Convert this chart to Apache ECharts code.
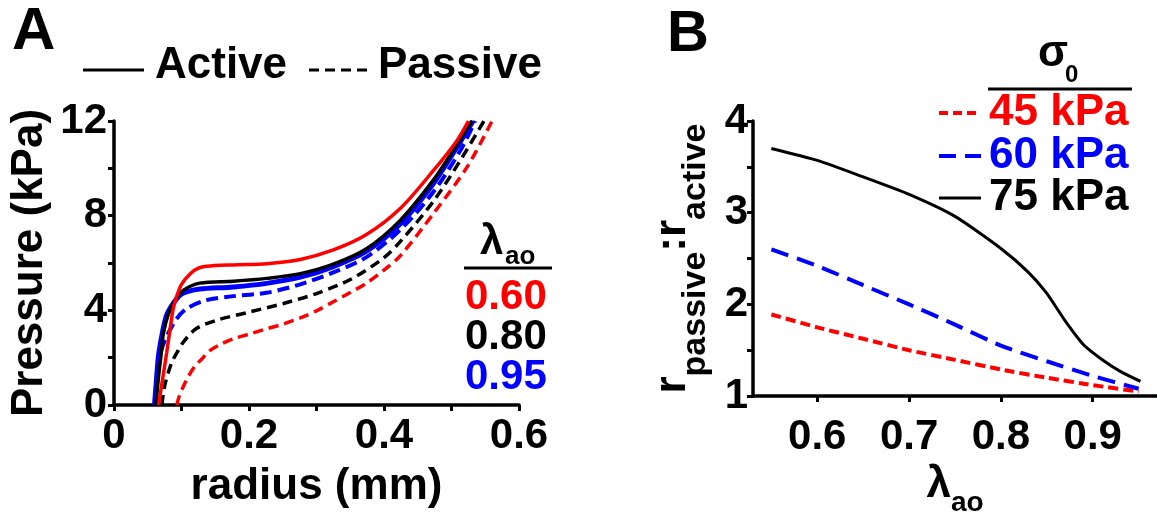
<!DOCTYPE html>
<html>
<head>
<meta charset="utf-8">
<script src="https://cdn.jsdelivr.net/npm/echarts@6/dist/echarts.min.js"></script>
<style>
html,body{margin:0;padding:0;background:#fff}
#main{width:1157px;height:522px}
</style>
</head>
<body>
<div id="main"></div>
<script>
// panel A: pressure vs radius, [radius mm, pressure kPa]
var redActive=[[0.066,0],[0.072,1.1],[0.078,2.2],[0.083,3.2],[0.088,4.1],[0.093,4.6],[0.100,5.1],[0.113,5.55],[0.125,5.78],[0.137,5.86],[0.177,5.92],[0.226,5.97],[0.276,6.15],[0.325,6.55],[0.374,7.2],[0.424,8.3],[0.473,9.9],[0.508,11.17],[0.525,12]];
var blackActive=[[0.062,0],[0.066,1.2],[0.070,2.2],[0.073,3.0],[0.080,3.8],[0.090,4.4],[0.103,4.85],[0.127,5.15],[0.177,5.23],[0.226,5.35],[0.276,5.55],[0.325,5.95],[0.374,6.6],[0.424,7.8],[0.473,9.5],[0.508,11.0],[0.530,12]];
var blueActive=[[0.060,0],[0.063,1.1],[0.066,2.1],[0.072,3.1],[0.078,3.8],[0.088,4.3],[0.098,4.65],[0.110,4.8],[0.127,4.9],[0.177,4.99],[0.226,5.14],[0.276,5.4],[0.325,5.85],[0.374,6.5],[0.424,7.65],[0.473,9.35],[0.508,10.89],[0.532,12]];
var bluePassive=[[0.061,0],[0.065,1.4],[0.070,2.3],[0.078,2.9],[0.093,3.65],[0.108,4.08],[0.137,4.43],[0.177,4.6],[0.226,4.74],[0.276,5.1],[0.325,5.6],[0.374,6.25],[0.424,7.4],[0.473,9.0],[0.513,10.75],[0.535,12]];
var blackPassive=[[0.071,0],[0.075,0.8],[0.085,1.76],[0.095,2.3],[0.103,2.67],[0.122,3.23],[0.152,3.58],[0.201,3.93],[0.251,4.29],[0.300,4.71],[0.350,5.3],[0.399,6.2],[0.424,6.9],[0.473,8.6],[0.513,10.33],[0.548,12]];
var redPassive=[[0.093,0],[0.097,0.4],[0.103,0.8],[0.110,1.2],[0.120,1.65],[0.132,2.0],[0.142,2.3],[0.157,2.55],[0.177,2.8],[0.201,3.0],[0.226,3.22],[0.251,3.42],[0.276,3.68],[0.300,3.98],[0.325,4.36],[0.350,4.75],[0.374,5.15],[0.400,5.7],[0.424,6.3],[0.473,8.08],[0.523,10.05],[0.560,12]];
var lambdaLabels=['0.60','0.80','0.95'];

// panel B: ratio vs lambda_ao
var lambdaB=[0.55,0.60,0.65,0.70,0.75,0.80,0.85,0.90,0.95];
var r45=[1.89,1.75,1.625,1.50,1.395,1.29,1.20,1.12,1.05];
var r60=[2.60,2.42,2.21,2.00,1.78,1.55,1.38,1.22,1.08];
var lambda75=[0.55,0.60,0.65,0.70,0.75,0.80,0.83,0.85,0.87,0.89,0.91,0.93,0.952];
var r75=[3.70,3.57,3.39,3.20,2.96,2.61,2.35,2.12,1.82,1.56,1.40,1.27,1.16];
var sigmaLabels=['45 kPa','60 kPa','75 kPa'];
var xTicksB=[0.6,0.7,0.8,0.9];

function pairs(xs,ys){
  var out=[];
  for(var i=0;i<xs.length;i++){out.push([xs[i],ys[i]]);}
  return out;
}

var FONT='Liberation Sans, Arial, sans-serif';
var RED='#ff0000',BLUE='#0000ff',BLACK='#000000';

function lab(size,margin){
  return {fontSize:size,fontWeight:'bold',fontFamily:FONT,color:BLACK,margin:margin};
}
var axLine={lineStyle:{color:BLACK,width:3.5}};
var tick={length:6,lineStyle:{color:BLACK,width:3}};
var minor={show:true,splitNumber:2,length:6,lineStyle:{color:BLACK,width:3}};

function line(name,data,grid,color,width,dash,smooth){
  return {
    name:name,type:'line',xAxisIndex:grid,yAxisIndex:grid,data:data,
    symbol:'none',smooth:smooth,
    lineStyle:{color:color,width:width,type:dash||'solid'}
  };
}

var myChart=echarts.init(document.getElementById('main'));
var option={
  animation:false,
  backgroundColor:'#fff',
  grid:[
    {left:114,top:121,width:405,height:284},
    {left:753,top:121,width:404,height:283}
  ],
  xAxis:[
    {type:'value',gridIndex:0,min:0,max:0.6,interval:0.2,
     axisLine:axLine,axisTick:tick,minorTick:minor,splitLine:{show:false},
     axisLabel:lab(42,10),
     name:'radius (mm)',nameLocation:'middle',nameGap:60,
     nameTextStyle:{fontSize:44,fontWeight:'bold',fontFamily:FONT,color:BLACK}},
    {type:'value',gridIndex:1,min:0.53,max:0.97,
     axisLine:axLine,
     axisTick:{length:6,lineStyle:{color:BLACK,width:3},customValues:xTicksB},
     splitLine:{show:false},
     axisLabel:Object.assign(lab(42,20),{customValues:xTicksB}),
     name:'{m|λ}{s|ao}',nameLocation:'middle',nameGap:62,
     nameTextStyle:{rich:{
       m:{fontSize:44,fontWeight:'bold',fontFamily:FONT,color:BLACK,verticalAlign:'top'},
       s:{fontSize:28,fontWeight:'bold',fontFamily:FONT,color:BLACK,padding:[26,0,0,0],verticalAlign:'top'}
     }}}
  ],
  yAxis:[
    {type:'value',gridIndex:0,min:0,max:12,interval:4,
     axisLine:axLine,axisTick:tick,minorTick:minor,splitLine:{show:false},
     axisLabel:lab(42,7),
     name:'Pressure (kPa)',nameLocation:'middle',nameRotate:90,nameGap:62,
     nameTextStyle:{fontSize:44,fontWeight:'bold',fontFamily:FONT,color:BLACK}},
    {type:'value',gridIndex:1,min:1,max:4,interval:1,
     axisLine:axLine,axisTick:tick,minorTick:minor,splitLine:{show:false},
     axisLabel:lab(42,5),
     name:'{m|r}{s|passive}{m|:r}{s|active}',nameLocation:'middle',nameRotate:90,nameGap:40,
     nameTextStyle:{rich:{
       m:{fontSize:44,fontWeight:'bold',fontFamily:FONT,color:BLACK,verticalAlign:'top'},
       s:{fontSize:34,fontWeight:'bold',fontFamily:FONT,color:BLACK,padding:[28,0,0,0],verticalAlign:'top'}
     }}}
  ],
  series:[
    line('0.95 passive',bluePassive,0,BLUE,4,[12,6],0.3),
    line('0.80 passive',blackPassive,0,BLACK,3.5,[10,6],0.3),
    line('0.60 passive',redPassive,0,RED,3.5,[10,6],0.3),
    line('0.95 active',blueActive,0,BLUE,5,'solid',0.3),
    line('0.80 active',blackActive,0,BLACK,3.5,'solid',0.3),
    line('0.60 active',redActive,0,RED,3.5,'solid',0.3),
    line('45 kPa',pairs(lambdaB,r45),1,RED,4,[10,5],0.2),
    line('60 kPa',pairs(lambdaB,r60),1,BLUE,4,[18,9],0.2),
    line('75 kPa',pairs(lambda75,r75),1,BLACK,3,'solid',0.2)
  ],
  graphic:[]
};

function txt(str,x,y,size,color){
  return {type:'text',x:x,y:y,style:{text:str,fontSize:size,fontWeight:'bold',fontFamily:FONT,fill:color||BLACK,verticalAlign:'middle'}};
}
function seg(x1,x2,y,color,width,dash){
  return {type:'line',shape:{x1:x1,y1:y,x2:x2,y2:y},style:{stroke:color,lineWidth:width,lineDash:dash||null}};
}
var g=option.graphic;
g.push(txt('A',12,32,60));
g.push(txt('B',667,35,58));
// panel A top legend
g.push(seg(83,144,70,BLACK,3));
g.push(txt('Active',155,66,44));
g.push(seg(309,370,70,BLACK,3,[10,6]));
g.push(txt('Passive',378,66,44));
// panel A lambda table
g.push(txt('λ',480,242,42));
g.push(txt('ao',505,257,26));
g.push(seg(464,552,268,BLACK,3));
var lamColors=[RED,BLACK,BLUE];
for(var i=0;i<lambdaLabels.length;i++){
  g.push(txt(lambdaLabels[i],465,297+i*40,42,lamColors[i]));
}
// panel B sigma legend
g.push(txt('σ',1038,54,44));
g.push(txt('0',1065,75,24));
g.push(seg(988,1132,89,BLACK,3));
var sigColors=[RED,BLUE,BLACK];
var sigDash=[[9,5],[17,9],null];
var sigY=[113,156,198];
for(var j=0;j<sigmaLabels.length;j++){
  g.push(seg(939,981,sigY[j],sigColors[j],j==2?3:4,sigDash[j]));
  g.push(txt(sigmaLabels[j],989,sigY[j],44,sigColors[j]));
}

myChart.setOption(option);
</script>
</body>
</html>
